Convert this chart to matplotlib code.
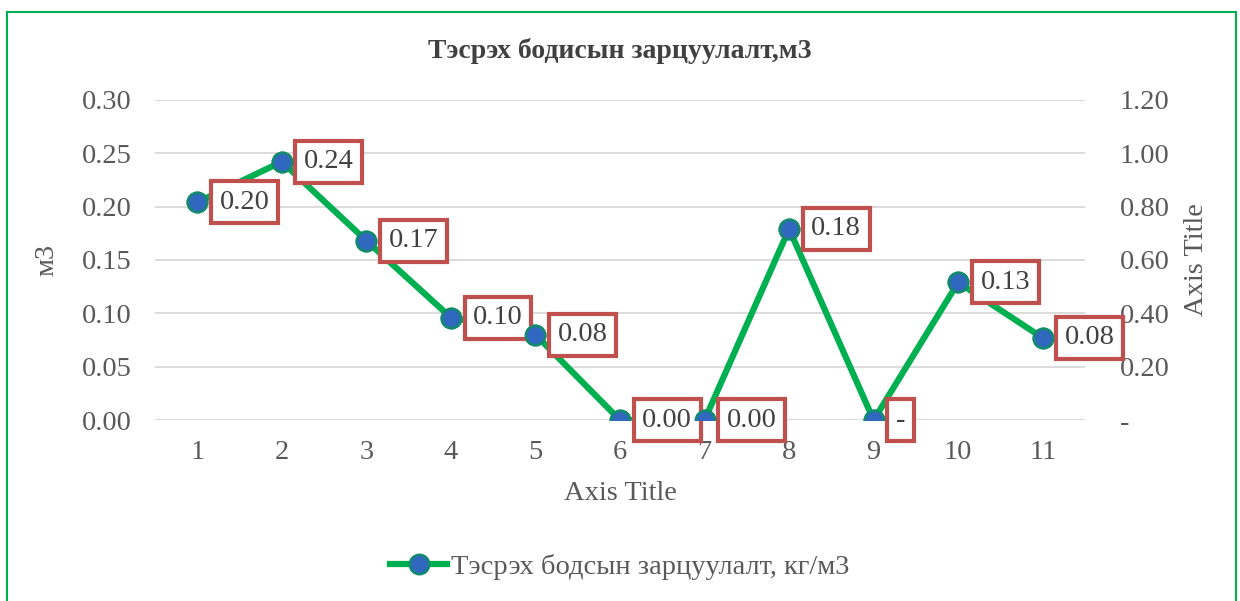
import matplotlib.pyplot as plt
from matplotlib.patches import Rectangle

plt.rcParams['font.family'] = ['Liberation Serif', 'DejaVu Serif']

categories = [1, 2, 3, 4, 5, 6, 7, 8, 9, 10, 11]
values = [0.204, 0.242, 0.168, 0.096, 0.080, 0.0, 0.0, 0.179, 0.0, 0.129, 0.077]
labels = ['0.20', '0.24', '0.17', '0.10', '0.08', '0.00', '0.00', '0.18', '-', '0.13', '0.08']
left_ticks = [0.00, 0.05, 0.10, 0.15, 0.20, 0.25, 0.30]
right_ticks = [0.0, 0.2, 0.4, 0.6, 0.8, 1.0, 1.2]
right_labels = ['-', '0.20', '0.40', '0.60', '0.80', '1.00', '1.20']

gray = '#595959'
fs = 20.5
mk = dict(marker='o', ms=14, mfc='#2F68BE', mec='#138A6E', mew=1.8)
fig = plt.figure(figsize=(12.4, 6.01), dpi=100)
ax = fig.add_axes([0.125, 0.301, 0.75, 0.533])
ax2 = ax.twinx()

ax.plot(categories, values, color='#00B050', lw=4.5, zorder=3,
        label='Тэсрэх бодсын зарцуулалт, кг/м3', **mk)
# markers again on top of the label boxes
ax.plot(categories, values, ls='none', zorder=5, **mk)

for x, y, s in zip(categories, values, labels):
    ax.annotate(s, (x, y), xytext=(16, 0), textcoords='offset points',
                ha='left', va='center', fontsize=fs, color='#404040',
                bbox=dict(boxstyle='square,pad=0.3', fc='white', ec='#C0504D', lw=3),
                zorder=4)

ax.set_xlim(0.5, 11.5)
ax.set_ylim(0, 0.30)
ax.set_yticks(left_ticks)
ax.set_yticklabels([f'{t:.2f}' for t in left_ticks])
ax.set_xticks(categories)
ax.grid(axis='y', color='#D9D9D9', lw=1.3)
ax.set_axisbelow(True)
ax.tick_params(axis='y', length=0, labelsize=fs, labelcolor=gray, pad=17)
ax.tick_params(axis='x', length=0, labelsize=fs, labelcolor=gray, pad=14)
ax.set_xlabel('Axis Title', fontsize=fs, color=gray, labelpad=12)
ax.set_ylabel('м3', fontsize=fs, color=gray, labelpad=16)

ax2.set_ylim(0, 1.2)
ax2.set_yticks(right_ticks)
ax2.set_yticklabels(right_labels)
ax2.tick_params(length=0, labelsize=fs, labelcolor=gray, pad=25)
ax2.set_ylabel('Axis Title', fontsize=fs, color=gray, labelpad=10)

for a in (ax, ax2):
    for sp in a.spines.values():
        sp.set_visible(False)

ax.set_zorder(ax2.get_zorder() + 1)
ax.patch.set_visible(False)

fig.text(0.5, 1 - 51 / 601, 'Тэсрэх бодисын зарцуулалт,м3', ha='center', va='center',
         fontsize=20, fontweight='bold', color='#404040')

fig.legend(loc='center', bbox_to_anchor=(0.5, 1 - 567 / 601), frameon=False,
           fontsize=fs, labelcolor=gray, handlelength=2.0, handletextpad=0.15)

fig.patches.append(Rectangle((7 / 1240, -0.05), 1229 / 1240, 1.05 - 12 / 601,
                             transform=fig.transFigure, fill=False,
                             ec='#00B050', lw=1.5))

fig.savefig('out.png', dpi=100)
